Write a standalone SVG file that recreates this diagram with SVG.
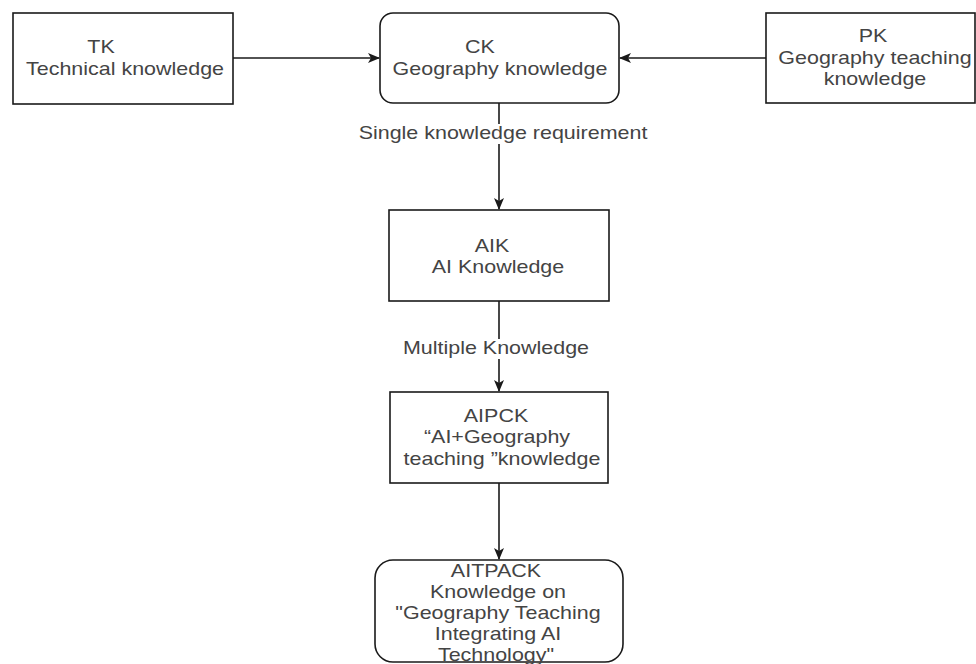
<svg xmlns="http://www.w3.org/2000/svg" width="976" height="664" viewBox="0 0 976 664">
<style>
  .box{fill:#fff;stroke:#1a1a1a;stroke-width:1.6}
  .edge{fill:none;stroke:#1a1a1a;stroke-width:1.6}
  text{font-family:"Liberation Sans",Arial,sans-serif;font-size:19px;fill:#444;text-anchor:middle}
  .lbl{fill:#fff;stroke:none}
</style>
<defs>
  <marker id="arr" viewBox="0 0 12 10" refX="11" refY="5" markerWidth="12" markerHeight="10" markerUnits="userSpaceOnUse" orient="auto">
    <path d="M0,0 L12,5 L0,10 L3,5 z" fill="#1a1a1a"/>
  </marker>
</defs>
<rect width="976" height="664" fill="#fff"/>
<g id="connectors">
  <path class="edge" d="M233,58 H379" marker-end="url(#arr)"/>
  <path class="edge" d="M766,58 H620" marker-end="url(#arr)"/>
  <path class="edge" d="M499,103 V209" marker-end="url(#arr)"/>
  <rect class="lbl" x="352" y="124" width="304" height="20"/>
  <text transform="translate(503 139) scale(1.13 1)">Single knowledge requirement</text>
  <path class="edge" d="M499,301 V391" marker-end="url(#arr)"/>
  <rect class="lbl" x="398" y="339" width="196" height="20"/>
  <text transform="translate(496 354) scale(1.13 1)">Multiple Knowledge</text>
  <path class="edge" d="M499,483 V559" marker-end="url(#arr)"/>
</g>
<g id="TK">
  <rect class="box" x="13" y="13" width="220" height="91"/>
  <text transform="translate(101 53) scale(1.13 1)">TK</text>
  <text transform="translate(125 75) scale(1.13 1)">Technical knowledge</text>
</g>
<g id="CK">
  <rect class="box" x="380" y="13" width="239" height="90" rx="13"/>
  <text transform="translate(480 53) scale(1.13 1)">CK</text>
  <text transform="translate(500 75) scale(1.13 1)">Geography knowledge</text>
</g>
<g id="PK">
  <rect class="box" x="766" y="13" width="209" height="90"/>
  <text transform="translate(873 42) scale(1.13 1)">PK</text>
  <text transform="translate(875 64) scale(1.13 1)">Geography teaching</text>
  <text transform="translate(875 85) scale(1.13 1)">knowledge</text>
</g>
<g id="AIK">
  <rect class="box" x="389" y="210" width="220" height="91"/>
  <text transform="translate(492 252) scale(1.13 1)">AIK</text>
  <text transform="translate(498 273) scale(1.13 1)">AI Knowledge</text>
</g>
<g id="AIPCK">
  <rect class="box" x="390" y="392" width="218" height="91"/>
  <text transform="translate(496 422) scale(1.13 1)">AIPCK</text>
  <text transform="translate(497 443) scale(1.13 1)">“AI+Geography</text>
  <text transform="translate(502 465) scale(1.13 1)">teaching ”knowledge</text>
</g>
<g id="AITPACK">
  <rect class="box" x="375" y="560" width="248" height="102" rx="18"/>
  <text transform="translate(496 577) scale(1.13 1)">AITPACK</text>
  <text transform="translate(498 598) scale(1.13 1)">Knowledge on</text>
  <text transform="translate(498 619) scale(1.13 1)">"Geography Teaching</text>
  <text transform="translate(498 640) scale(1.13 1)">Integrating AI</text>
  <text transform="translate(496 661) scale(1.13 1)">Technology"</text>
</g>
</svg>
